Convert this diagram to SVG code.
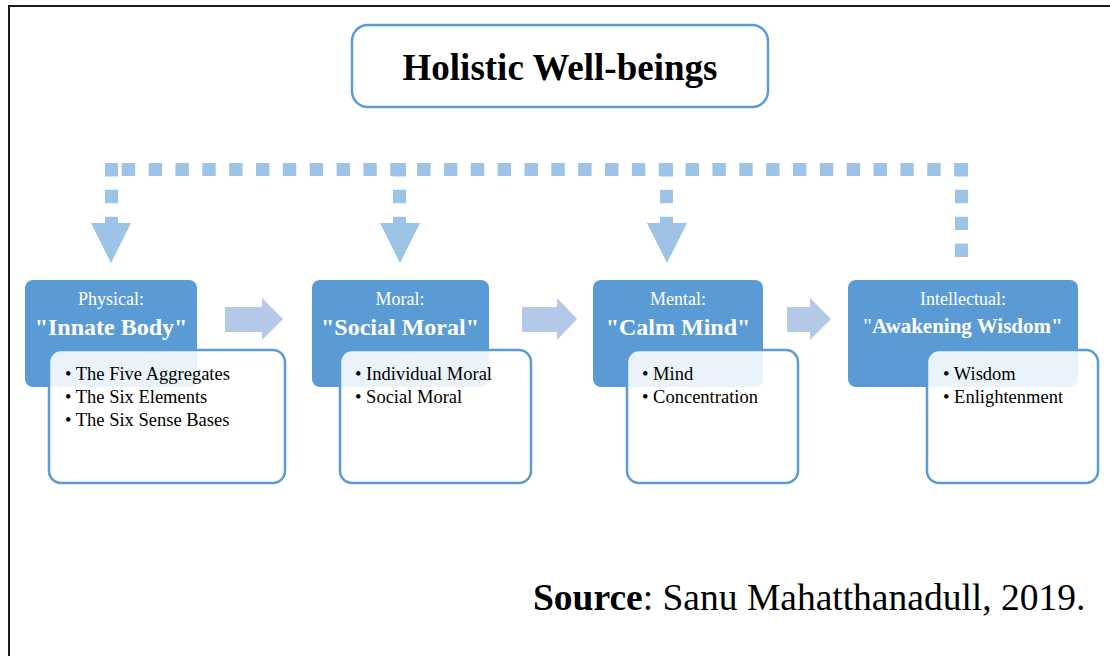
<svg xmlns="http://www.w3.org/2000/svg" width="1110" height="656" viewBox="0 0 1110 656">
<style>
.frame{stroke:#1a1a1a;stroke-width:2;fill:none}
.title{fill:#fff;stroke:#5b9bd5;stroke-width:2.5}
.blue{fill:#5b9bd5}
.card{fill:#fff;fill-opacity:0.88;stroke:#5b9bd5;stroke-width:2.5}
.dot{stroke:#9dc3e6;stroke-width:13;fill:none;stroke-dasharray:13.4 13.45}
.head{fill:#9dc3e6}
.flow{fill:#b4c8e8}
text{font-family:"Liberation Serif","Times New Roman",serif}
.h1{font-size:37px;font-weight:bold;fill:#000}
.lab{font-size:18px;fill:#fff}
.big{font-size:24px;font-weight:bold;fill:#fff}
.item{font-size:18.5px;fill:#000}
.src{font-size:37.5px;fill:#000}
</style>
<rect x="0" y="0" width="1110" height="656" fill="#fff"/>
<path class="frame" d="M9 656 V6 H1110"/>
<g id="title">
<rect class="title" x="352" y="25" width="416" height="82" rx="16"/>
<text class="h1" x="560" y="80" text-anchor="middle">Holistic Well-beings</text>
</g>
<g id="connectors">
<path class="dot" d="M967.5 169.5 H105"/>
<path class="dot" d="M111.5 163 V224"/>
<path class="dot" d="M399.5 163 V224"/>
<path class="dot" d="M666.5 163 V224"/>
<path class="dot" d="M961.5 163 V257"/>
<polygon class="head" points="91,223 131,223 111,263"/>
<polygon class="head" points="380,223 420,223 400,263"/>
<polygon class="head" points="647,223 687,223 667,263"/>
<polygon class="flow" points="225,307 262,307 262,298 283,319 262,340 262,332 225,332"/>
<polygon class="flow" points="522,307 557,307 557,298 577,319 557,340 557,332 522,332"/>
<polygon class="flow" points="787,307 810,307 810,298 831,319 810,340 810,332 787,332"/>
</g>
<g id="physical">
<rect class="blue" x="25" y="280" width="172" height="107" rx="8"/>
<text class="lab" x="111" y="305" text-anchor="middle">Physical:</text>
<text class="big" x="111" y="335" text-anchor="middle">"Innate Body"</text>
<rect class="card" x="49" y="350" width="236" height="133" rx="12"/>
<text class="item" x="65" y="380">• The Five Aggregates</text>
<text class="item" x="65" y="403">• The Six Elements</text>
<text class="item" x="65" y="426">• The Six Sense Bases</text>
</g>
<g id="moral">
<rect class="blue" x="312" y="280" width="177" height="107" rx="8"/>
<text class="lab" x="400" y="305" text-anchor="middle">Moral:</text>
<text class="big" x="400" y="335" text-anchor="middle">"Social Moral"</text>
<rect class="card" x="340" y="350" width="191" height="133" rx="12"/>
<text class="item" x="355" y="380">• Individual Moral</text>
<text class="item" x="355" y="403">• Social Moral</text>
</g>
<g id="mental">
<rect class="blue" x="593" y="280" width="170" height="107" rx="8"/>
<text class="lab" x="678" y="305" text-anchor="middle">Mental:</text>
<text class="big" x="678" y="335" text-anchor="middle">"Calm Mind"</text>
<rect class="card" x="627" y="350" width="171" height="133" rx="12"/>
<text class="item" x="642" y="380">• Mind</text>
<text class="item" x="642" y="403">• Concentration</text>
</g>
<g id="intellectual">
<rect class="blue" x="848" y="280" width="230" height="107" rx="8"/>
<text class="lab" x="963" y="305" text-anchor="middle">Intellectual:</text>
<text x="963" y="333" text-anchor="middle" style="font-size:21px;fill:#fff">"<tspan font-weight="bold">Awakening Wisdom"</tspan></text>
<rect class="card" x="927" y="350" width="171" height="133" rx="12"/>
<text class="item" x="943" y="380">• Wisdom</text>
<text class="item" x="943" y="403">• Enlightenment</text>
</g>
<text class="src" x="533" y="610"><tspan font-weight="bold">Source</tspan>: Sanu Mahatthanadull, 2019.</text>
</svg>
